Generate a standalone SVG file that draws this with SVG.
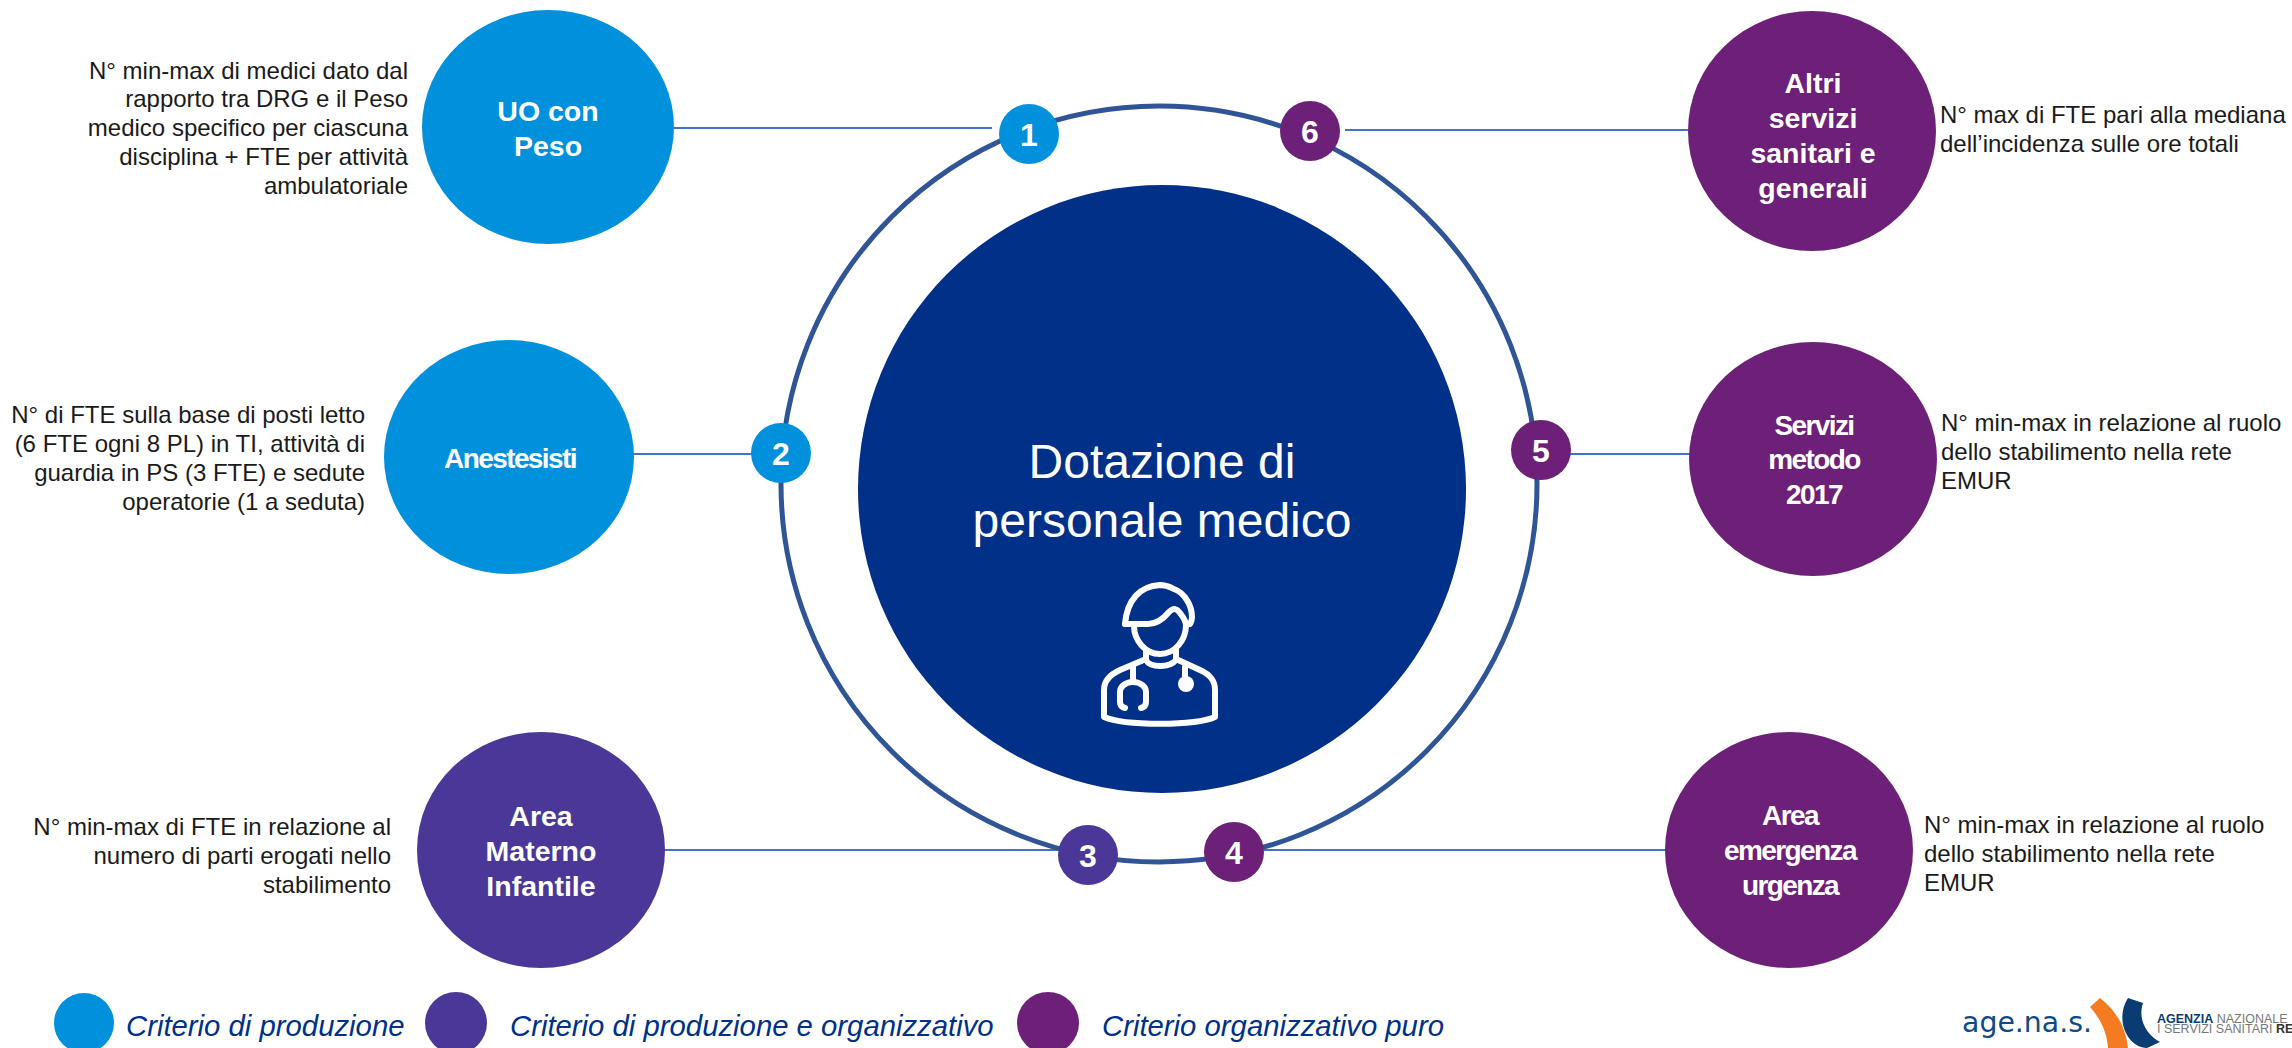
<svg xmlns="http://www.w3.org/2000/svg" width="2292" height="1048" viewBox="0 0 2292 1048">
<style>
text{font-family:"Liberation Sans",Arial,sans-serif}
.d{font-size:24px;fill:#1a1a1a}
.r{text-anchor:end}
.n{font-size:28.5px;font-weight:700;fill:#fff;text-anchor:middle}
.t{font-size:28px;letter-spacing:-1.6px}
.b{font-size:32px;font-weight:700;fill:#fff;text-anchor:middle}
.l{font-size:29.3px;font-style:italic;fill:#003087}
.c{stroke:#4472c4;stroke-width:2;fill:none}
.blue{fill:#0090dc}.ind{fill:#4a3797}.pur{fill:#6d2077}
.ic{fill:none;stroke:#fff;stroke-width:6;stroke-linecap:round;stroke-linejoin:round}
</style>
<g id="connectors">
<path class="c" d="M674 128H992"/>
<path class="c" d="M1345 130H1688"/>
<path class="c" d="M633 454H752"/>
<path class="c" d="M1570 454H1690"/>
<path class="c" d="M665 850H1058"/>
<path class="c" d="M1264 850H1665"/>
</g>
<g id="ring"><circle cx="1159" cy="484" r="378" fill="none" stroke="#2f5597" stroke-width="5"/></g>
<g id="center">
<circle cx="1162" cy="489" r="304" fill="#003087"/>
<text x="1162" y="478" font-size="48" fill="#fff" text-anchor="middle">Dotazione di</text>
<text x="1162" y="537" font-size="48" fill="#fff" text-anchor="middle">personale medico</text>
<g class="ic">
<path d="M1125 624C1127 600 1140 586 1160 585C1167 585 1170 587 1174 589C1185 593 1192 606 1192 617C1192 621 1191 622 1190 624"/>
<path d="M1125 624H1148C1158 624 1164 618 1169 612C1174 607 1177 609 1180 613C1183 617 1186 620 1186 626"/>
<path d="M1134 626C1134 640 1145 654 1160 654C1175 654 1186 640 1186 625"/>
<path d="M1146 650V660C1150 668 1170 668 1176 660V650"/>
<path d="M1146 659L1120 670C1109 675 1104 681 1104 690V717C1125 726 1195 726 1215 717V690C1215 681 1211 675 1200 670L1176 659"/>
<path d="M1133 667V682"/>
<path d="M1125 708C1121 707 1120 705 1120 702V692C1120 687 1125 682 1133 682C1141 682 1146 687 1146 692V702C1146 705 1145 707 1141 708"/>
<path d="M1185 667V682"/>
</g>
<circle cx="1186" cy="684" r="8" fill="#fff"/>
</g>
<g id="node-uo"><ellipse class="blue" cx="548" cy="127" rx="126" ry="117"/><text class="n" x="548" y="121">UO con</text><text class="n" x="548" y="156">Peso</text>
<text class="d r" x="408" y="79">N° min-max di medici dato dal</text><text class="d r" x="408" y="107">rapporto tra DRG e il Peso</text><text class="d r" x="408" y="136">medico specifico per ciascuna</text><text class="d r" x="408" y="165">disciplina + FTE per attività</text><text class="d r" x="408" y="194">ambulatoriale</text></g>
<g id="node-anestesisti"><ellipse class="blue" cx="509" cy="457" rx="125" ry="117"/><text class="n t" x="510" y="468">Anestesisti</text>
<text class="d r" x="365" y="423">N° di FTE sulla base di posti letto</text><text class="d r" x="365" y="452">(6 FTE ogni 8 PL) in TI, attività di</text><text class="d r" x="365" y="481">guardia in PS (3 FTE) e sedute</text><text class="d r" x="365" y="510">operatorie (1 a seduta)</text></g>
<g id="node-materno"><ellipse class="ind" cx="541" cy="850" rx="124" ry="118"/><text class="n" x="541" y="826">Area</text><text class="n" x="541" y="861">Materno</text><text class="n" x="541" y="896">Infantile</text>
<text class="d r" x="391" y="835">N° min-max di FTE in relazione al</text><text class="d r" x="391" y="864">numero di parti erogati nello</text><text class="d r" x="391" y="893">stabilimento</text></g>
<g id="node-emergenza"><ellipse class="pur" cx="1789" cy="850" rx="124" ry="118"/><text class="n t" x="1790" y="825">Area</text><text class="n t" x="1790" y="860">emergenza</text><text class="n t" x="1790" y="895">urgenza</text>
<text class="d" x="1924" y="833">N° min-max in relazione al ruolo</text><text class="d" x="1924" y="862">dello stabilimento nella rete</text><text class="d" x="1924" y="891">EMUR</text></g>
<g id="node-servizi"><ellipse class="pur" cx="1813" cy="459" rx="124" ry="117"/><text class="n t" x="1814" y="435">Servizi</text><text class="n t" x="1814" y="469">metodo</text><text class="n t" x="1814" y="504">2017</text>
<text class="d" x="1941" y="431">N° min-max in relazione al ruolo</text><text class="d" x="1941" y="460">dello stabilimento nella rete</text><text class="d" x="1941" y="489">EMUR</text></g>
<g id="node-altri"><ellipse class="pur" cx="1812" cy="131" rx="124" ry="120"/><text class="n" x="1813" y="93">Altri</text><text class="n" x="1813" y="128">servizi</text><text class="n" x="1813" y="163">sanitari e</text><text class="n" x="1813" y="198">generali</text>
<text class="d" x="1940" y="123">N° max di FTE pari alla mediana</text><text class="d" x="1940" y="152">dell’incidenza sulle ore totali</text></g>
<g id="badge-1"><circle class="blue" cx="1029" cy="134" r="30"/><text class="b" x="1029" y="146">1</text></g>
<g id="badge-2"><circle class="blue" cx="781" cy="453" r="30"/><text class="b" x="781" y="465">2</text></g>
<g id="badge-3"><circle class="ind" cx="1088" cy="855" r="30"/><text class="b" x="1088" y="867">3</text></g>
<g id="badge-4"><circle class="pur" cx="1234" cy="852" r="30"/><text class="b" x="1234" y="864">4</text></g>
<g id="badge-5"><circle class="pur" cx="1541" cy="450" r="30"/><text class="b" x="1541" y="462">5</text></g>
<g id="badge-6"><circle class="pur" cx="1310" cy="131" r="30"/><text class="b" x="1310" y="143">6</text></g>
<g id="legend">
<ellipse class="blue" cx="84" cy="1023" rx="30" ry="30"/><text class="l" x="126" y="1036">Criterio di produzione</text>
<ellipse class="ind" cx="456" cy="1023" rx="31" ry="31"/><text class="l" x="510" y="1036">Criterio di produzione e organizzativo</text>
<ellipse class="pur" cx="1048" cy="1023" rx="31" ry="31"/><text class="l" x="1102" y="1036">Criterio organizzativo puro</text>
</g>
<g id="logo">
<text x="1962" y="1032" font-size="28" style="font-family:'DejaVu Sans',sans-serif" fill="#0b4a86" textLength="130" lengthAdjust="spacingAndGlyphs">age.na.s.</text>
<path d="M2090 1007L2100 998C2116 1010 2126 1028 2128 1048H2108C2107 1032 2100 1018 2090 1007Z" fill="#f47b20"/>
<path d="M2128 998L2143 1003C2138 1018 2145 1034 2160 1042L2147 1048C2128 1048 2114 1020 2128 998Z" fill="#0b3b73"/>
<text x="2157" y="1023" font-size="12.5" fill="#777"><tspan font-weight="700" fill="#0b3b73">AGENZIA</tspan> NAZIONALE</text>
<text x="2157" y="1033" font-size="12.5" fill="#777">I SERVIZI SANITARI <tspan font-weight="700" fill="#333">RE</tspan></text>
</g>
</svg>
